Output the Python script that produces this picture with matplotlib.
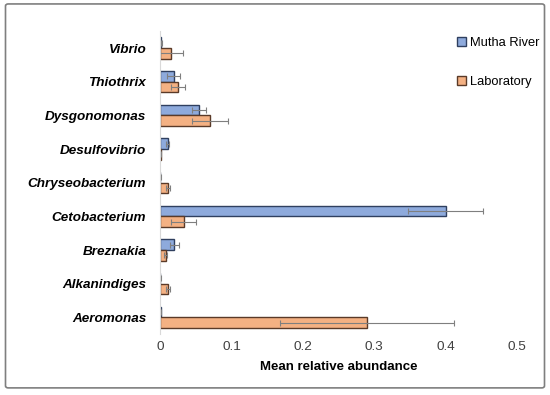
import numpy as np
import matplotlib.pyplot as plt
from matplotlib.patches import FancyBboxPatch

genera = ['Vibrio', 'Thiothrix', 'Dysgonomonas', 'Desulfovibrio', 'Chryseobacterium',
          'Cetobacterium', 'Breznakia', 'Alkanindiges', 'Aeromonas']
mutha = [0.002, 0.019, 0.055, 0.011, 0.0005, 0.400, 0.020, 0.0005, 0.001]
mutha_err = [0.001, 0.009, 0.010, 0.002, 0.0003, 0.053, 0.006, 0.0003, 0.0005]
lab = [0.016, 0.025, 0.070, 0.001, 0.011, 0.033, 0.008, 0.011, 0.290]
lab_err = [0.016, 0.010, 0.025, 0.0005, 0.003, 0.017, 0.002, 0.003, 0.122]

plt.rcParams['font.family'] = ['Liberation Sans', 'DejaVu Sans']

fig = plt.figure(figsize=(5.5, 3.95), dpi=100)
ax = fig.add_axes([0.291, 0.154, 0.649, 0.767])

border = FancyBboxPatch((0.01, 0.018), 0.98, 0.972, boxstyle='round,pad=0,rounding_size=0.005',
                        transform=fig.transFigure, fill=False, edgecolor='#7f7f7f', linewidth=1.2)
fig.patches.append(border)

y = np.arange(len(genera))[::-1].astype(float)
h = 0.32
err_kw = dict(ecolor='#7f7f7f', elinewidth=0.8, capsize=2, capthick=0.8)

ax.barh(y + h / 2, mutha, height=h, xerr=mutha_err, color='#8eaadc',
        edgecolor='#2f3f5f', linewidth=1.0, error_kw=err_kw, label='Mutha River')
ax.barh(y - h / 2, lab, height=h, xerr=lab_err, color='#f4b183',
        edgecolor='#5a3a28', linewidth=1.0, error_kw=err_kw, label='Laboratory')

ax.set_xlim(0, 0.5)
ax.set_ylim(-0.5, len(genera) - 0.5)
ax.set_xticks([0, 0.1, 0.2, 0.3, 0.4, 0.5])
ax.set_xticklabels(['0', '0.1', '0.2', '0.3', '0.4', '0.5'])
ax.set_yticks(y)
ax.set_yticklabels(genera, fontsize=9.7, fontweight='bold', fontstyle='italic')
ax.tick_params(axis='x', labelsize=9.7, length=0, pad=5, colors='#404040')
ax.tick_params(axis='y', length=0, pad=10)
ax.set_xlabel('Mean relative abundance', fontsize=9.5, fontweight='bold', labelpad=6)

for s in ['top', 'right', 'bottom']:
    ax.spines[s].set_visible(False)
ax.spines['left'].set_color('#d9d9d9')

ax.legend(loc='upper left', bbox_to_anchor=(0.8, 1.02), frameon=False, fontsize=9.3,
          handlelength=0.7, handleheight=0.7, handletextpad=0.3, labelspacing=2.1)

plt.savefig('out.png', dpi=100)
